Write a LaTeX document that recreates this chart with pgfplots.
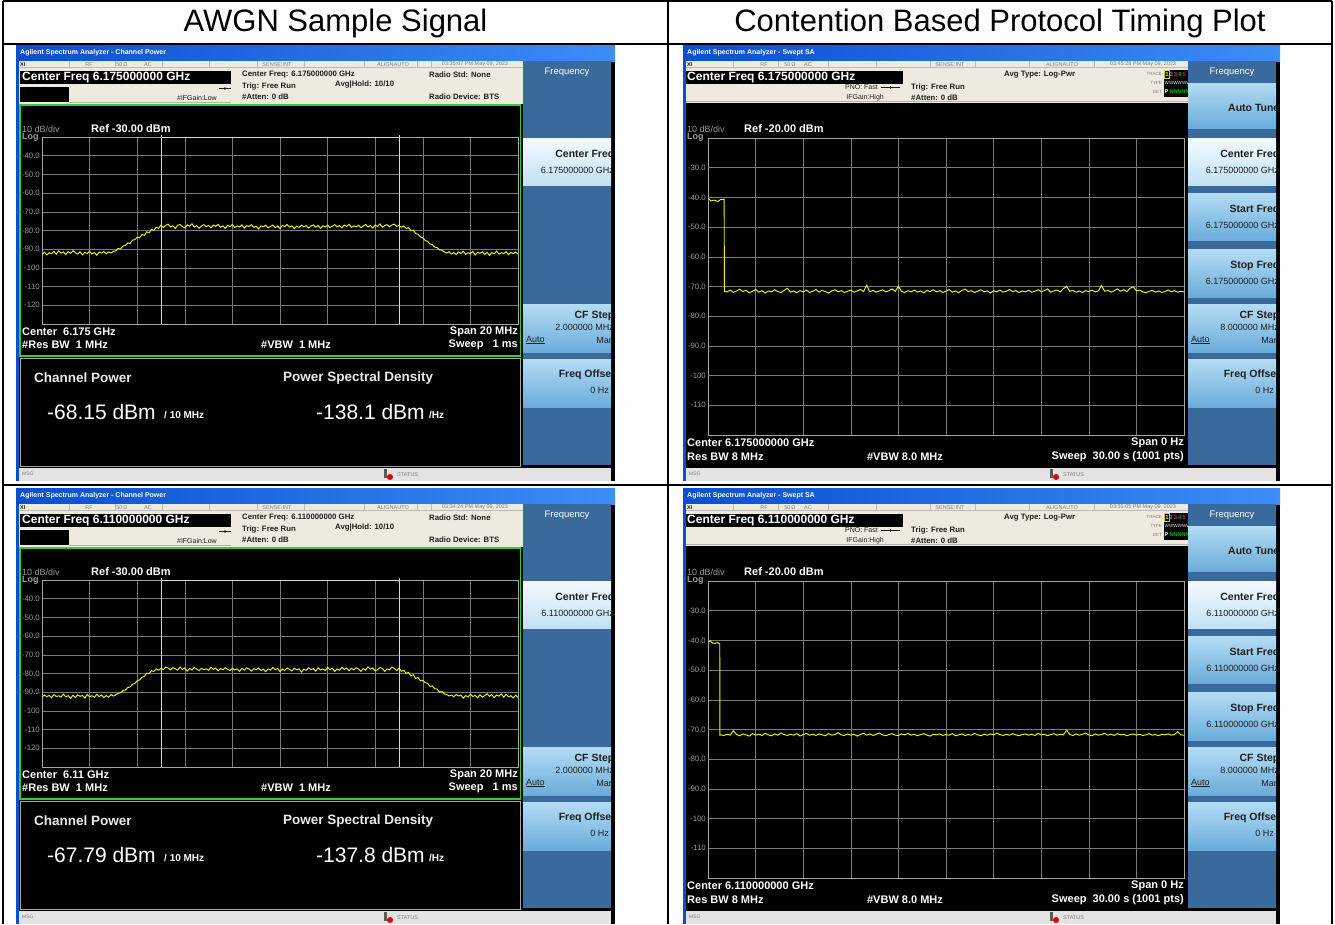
\documentclass[border=0pt]{standalone}
\usepackage{pgfplots}
\pgfplotsset{compat=1.18}
\usepackage{pgfplotstable}
\usepackage{fontspec}
\setmainfont{Liberation Sans}
\newcommand{\fs}[1]{\fontsize{#1}{#1}\selectfont}
\definecolor{tbL}{HTML}{0B4FD0}
\definecolor{tbR}{HTML}{3D8DF8}
\definecolor{infobg}{HTML}{EEEADF}
\definecolor{panel}{HTML}{3A6A9C}
\definecolor{btnT}{HTML}{B4DCF4}
\definecolor{btnB}{HTML}{6AACDA}
\definecolor{selT}{HTML}{F2FAFF}
\definecolor{selB}{HTML}{C2E1F5}
\definecolor{gridc}{HTML}{7A7A7A}
\definecolor{tracec}{HTML}{F4F400}
\definecolor{greenb}{HTML}{33CC33}
\definecolor{msgbg}{HTML}{E4E2E2}
\definecolor{txtd}{HTML}{1E1E1E}
\definecolor{markc}{HTML}{D8D8D8}

\tikzset{tx/.style={anchor=west,inner sep=0pt},te/.style={anchor=east,inner sep=0pt},tc/.style={anchor=center,inner sep=0pt}}

\pgfplotsset{
 sa/.style={scale only axis, anchor=south west, clip mode=individual,
   axis line style={draw=gray!70!white, line width=0.7pt},
   grid=major, major grid style={draw=gridc, line width=0.5pt},
   major tick length=0pt, xticklabels={},
   yticklabel style={font=\fs{7.8}, text=gray!80!white, inner sep=1pt, xshift=-1pt}},
 tr/.style={draw=tracec, line width=0.95pt, mark=none},
}

\pgfplotstableread[row sep=\\]{
x y\\
-10.0 -92.8\\ -9.9 -91.6\\ -9.8 -93.1\\ -9.7 -91.9\\ -9.6 -92.4\\ -9.5 -91.2\\ -9.4 -92.7\\ -9.3 -90.9\\ -9.2 -92.1\\ -9.1 -91.5\\
-9.0 -92.9\\ -8.9 -91.3\\ -8.8 -92.2\\ -8.7 -90.8\\ -8.6 -91.9\\ -8.5 -92.6\\ -8.4 -91.4\\ -8.3 -93.0\\ -8.2 -91.7\\ -8.1 -92.3\\
-8.0 -91.1\\ -7.9 -92.5\\ -7.8 -91.8\\ -7.7 -93.2\\ -7.6 -91.6\\ -7.5 -92.0\\ -7.4 -91.3\\ -7.3 -92.4\\ -7.2 -91.5\\ -7.1 -92.0\\
-7.0 -91.2\\ -6.9 -90.9\\ -6.8 -89.6\\ -6.7 -89.9\\ -6.6 -88.3\\ -6.5 -88.1\\ -6.4 -86.6\\ -6.3 -86.9\\ -6.2 -85.2\\ -6.1 -84.9\\
-6.0 -83.6\\ -5.9 -83.9\\ -5.8 -82.1\\ -5.7 -82.6\\ -5.6 -80.7\\ -5.5 -81.2\\ -5.4 -79.4\\ -5.3 -79.9\\ -5.2 -78.3\\ -5.1 -78.8\\
-5.0 -77.1\\ -4.9 -78.4\\ -4.8 -77.3\\ -4.7 -76.6\\ -4.6 -78.1\\ -4.5 -77.5\\ -4.4 -78.9\\ -4.3 -77.2\\ -4.2 -76.8\\ -4.1 -77.9\\
-4.0 -78.6\\ -3.9 -77.0\\ -3.8 -77.7\\ -3.7 -76.4\\ -3.6 -78.2\\ -3.5 -77.4\\ -3.4 -78.8\\ -3.3 -77.6\\ -3.2 -76.9\\ -3.1 -78.0\\
-3.0 -77.3\\ -2.9 -78.5\\ -2.8 -77.1\\ -2.7 -77.8\\ -2.6 -76.7\\ -2.5 -78.3\\ -2.4 -77.5\\ -2.3 -78.9\\ -2.2 -77.2\\ -2.1 -77.9\\
-2.0 -76.8\\ -1.9 -78.4\\ -1.8 -77.6\\ -1.7 -78.1\\ -1.6 -77.0\\ -1.5 -78.7\\ -1.4 -77.4\\ -1.3 -77.9\\ -1.2 -76.9\\ -1.1 -78.3\\
-1.0 -77.7\\ -0.9 -79.2\\ -0.8 -77.5\\ -0.7 -78.0\\ -0.6 -77.2\\ -0.5 -78.6\\ -0.4 -77.8\\ -0.3 -77.1\\ -0.2 -78.4\\ -0.1 -77.6\\
0.0 -78.9\\ 0.1 -77.3\\ 0.2 -77.9\\ 0.3 -76.8\\ 0.4 -78.2\\ 0.5 -77.5\\ 0.6 -79.0\\ 0.7 -77.7\\ 0.8 -78.3\\ 0.9 -77.1\\
1.0 -78.0\\ 1.1 -77.4\\ 1.2 -78.7\\ 1.3 -77.6\\ 1.4 -77.0\\ 1.5 -78.2\\ 1.6 -77.3\\ 1.7 -78.8\\ 1.8 -77.5\\ 1.9 -78.1\\
2.0 -77.2\\ 2.1 -78.4\\ 2.2 -77.7\\ 2.3 -76.9\\ 2.4 -78.0\\ 2.5 -77.4\\ 2.6 -78.6\\ 2.7 -77.1\\ 2.8 -77.8\\ 2.9 -76.7\\
3.0 -78.3\\ 3.1 -77.5\\ 3.2 -78.0\\ 3.3 -77.2\\ 3.4 -78.5\\ 3.5 -77.6\\ 3.6 -76.8\\ 3.7 -78.1\\ 3.8 -77.3\\ 3.9 -78.7\\
4.0 -77.0\\ 4.1 -77.9\\ 4.2 -76.5\\ 4.3 -78.2\\ 4.4 -77.4\\ 4.5 -76.9\\ 4.6 -78.0\\ 4.7 -77.1\\ 4.8 -76.6\\ 4.9 -77.8\\
5.0 -77.3\\ 5.1 -78.2\\ 5.2 -77.6\\ 5.3 -78.9\\ 5.4 -78.5\\ 5.5 -80.1\\ 5.6 -79.8\\ 5.7 -81.6\\ 5.8 -82.0\\ 5.9 -83.4\\
6.0 -83.9\\ 6.1 -85.3\\ 6.2 -85.8\\ 6.3 -87.2\\ 6.4 -87.5\\ 6.5 -88.9\\ 6.6 -89.1\\ 6.7 -90.3\\ 6.8 -90.6\\ 6.9 -91.4\\
7.0 -92.1\\ 7.1 -91.3\\ 7.2 -92.6\\ 7.3 -91.8\\ 7.4 -92.9\\ 7.5 -91.5\\ 7.6 -92.3\\ 7.7 -91.1\\ 7.8 -92.7\\ 7.9 -91.9\\
8.0 -92.4\\ 8.1 -91.2\\ 8.2 -93.1\\ 8.3 -91.7\\ 8.4 -92.2\\ 8.5 -91.4\\ 8.6 -92.8\\ 8.7 -91.6\\ 8.8 -93.3\\ 8.9 -91.8\\
9.0 -92.5\\ 9.1 -91.0\\ 9.2 -92.6\\ 9.3 -91.9\\ 9.4 -92.3\\ 9.5 -91.3\\ 9.6 -92.9\\ 9.7 -91.7\\ 9.8 -92.4\\ 9.9 -91.5\\
10.0 -92.6\\
}\specA

\pgfplotstableread[row sep=\\]{
x y\\
-10.0 -92.6\\ -9.9 -91.5\\ -9.8 -92.4\\ -9.7 -91.7\\ -9.6 -92.9\\ -9.5 -91.3\\ -9.4 -92.3\\ -9.3 -91.9\\ -9.2 -92.6\\ -9.1 -91.0\\
-9.0 -92.5\\ -8.9 -91.8\\ -8.8 -93.3\\ -8.7 -91.6\\ -8.6 -92.8\\ -8.5 -91.4\\ -8.4 -92.2\\ -8.3 -91.7\\ -8.2 -93.1\\ -8.1 -91.2\\
-8.0 -92.4\\ -7.9 -91.9\\ -7.8 -92.7\\ -7.7 -91.1\\ -7.6 -92.3\\ -7.5 -91.5\\ -7.4 -92.9\\ -7.3 -91.8\\ -7.2 -92.6\\ -7.1 -91.3\\
-7.0 -92.1\\ -6.9 -91.4\\ -6.8 -90.6\\ -6.7 -90.3\\ -6.6 -89.1\\ -6.5 -88.9\\ -6.4 -87.5\\ -6.3 -87.2\\ -6.2 -85.8\\ -6.1 -85.3\\
-6.0 -83.9\\ -5.9 -83.4\\ -5.8 -82.0\\ -5.7 -81.6\\ -5.6 -79.8\\ -5.5 -80.1\\ -5.4 -78.5\\ -5.3 -78.9\\ -5.2 -77.6\\ -5.1 -78.2\\
-5.0 -77.3\\ -4.9 -77.8\\ -4.8 -76.6\\ -4.7 -77.1\\ -4.6 -78.0\\ -4.5 -76.9\\ -4.4 -77.4\\ -4.3 -78.2\\ -4.2 -76.5\\ -4.1 -77.9\\
-4.0 -77.0\\ -3.9 -78.7\\ -3.8 -77.3\\ -3.7 -78.1\\ -3.6 -76.8\\ -3.5 -77.6\\ -3.4 -78.5\\ -3.3 -77.2\\ -3.2 -78.0\\ -3.1 -77.5\\
-3.0 -78.3\\ -2.9 -76.7\\ -2.8 -77.8\\ -2.7 -77.1\\ -2.6 -78.6\\ -2.5 -77.4\\ -2.4 -78.0\\ -2.3 -76.9\\ -2.2 -77.7\\ -2.1 -78.4\\
-2.0 -77.2\\ -1.9 -78.1\\ -1.8 -77.5\\ -1.7 -78.8\\ -1.6 -77.3\\ -1.5 -78.2\\ -1.4 -77.0\\ -1.3 -77.6\\ -1.2 -78.7\\ -1.1 -77.4\\
-1.0 -78.0\\ -0.9 -77.1\\ -0.8 -78.3\\ -0.7 -77.7\\ -0.6 -79.0\\ -0.5 -77.5\\ -0.4 -78.2\\ -0.3 -76.8\\ -0.2 -77.9\\ -0.1 -77.3\\
0.0 -78.9\\ 0.1 -77.6\\ 0.2 -78.4\\ 0.3 -77.1\\ 0.4 -77.8\\ 0.5 -78.6\\ 0.6 -77.2\\ 0.7 -78.0\\ 0.8 -77.5\\ 0.9 -79.2\\
1.0 -77.7\\ 1.1 -78.3\\ 1.2 -76.9\\ 1.3 -77.9\\ 1.4 -77.4\\ 1.5 -78.7\\ 1.6 -77.0\\ 1.7 -78.1\\ 1.8 -77.6\\ 1.9 -78.4\\
2.0 -76.8\\ 2.1 -77.9\\ 2.2 -77.2\\ 2.3 -78.9\\ 2.4 -77.5\\ 2.5 -78.3\\ 2.6 -76.7\\ 2.7 -77.8\\ 2.8 -77.1\\ 2.9 -78.5\\
3.0 -77.3\\ 3.1 -78.0\\ 3.2 -76.9\\ 3.3 -77.6\\ 3.4 -78.8\\ 3.5 -77.4\\ 3.6 -78.2\\ 3.7 -76.4\\ 3.8 -77.7\\ 3.9 -77.0\\
4.0 -78.6\\ 4.1 -77.9\\ 4.2 -76.8\\ 4.3 -77.2\\ 4.4 -78.9\\ 4.5 -77.5\\ 4.6 -78.1\\ 4.7 -76.6\\ 4.8 -77.3\\ 4.9 -78.4\\
5.0 -77.1\\ 5.1 -78.8\\ 5.2 -78.3\\ 5.3 -79.9\\ 5.4 -79.4\\ 5.5 -81.2\\ 5.6 -80.7\\ 5.7 -82.6\\ 5.8 -82.1\\ 5.9 -83.9\\
6.0 -83.6\\ 6.1 -84.9\\ 6.2 -85.2\\ 6.3 -86.9\\ 6.4 -86.6\\ 6.5 -88.1\\ 6.6 -88.3\\ 6.7 -89.9\\ 6.8 -89.6\\ 6.9 -90.9\\
7.0 -91.2\\ 7.1 -92.0\\ 7.2 -91.5\\ 7.3 -92.4\\ 7.4 -91.3\\ 7.5 -92.0\\ 7.6 -91.6\\ 7.7 -93.2\\ 7.8 -91.8\\ 7.9 -92.5\\
8.0 -91.1\\ 8.1 -92.3\\ 8.2 -91.7\\ 8.3 -93.0\\ 8.4 -91.4\\ 8.5 -92.6\\ 8.6 -91.9\\ 8.7 -90.8\\ 8.8 -92.2\\ 8.9 -91.3\\
9.0 -92.9\\ 9.1 -91.5\\ 9.2 -92.1\\ 9.3 -90.9\\ 9.4 -92.7\\ 9.5 -91.2\\ 9.6 -92.4\\ 9.7 -91.9\\ 9.8 -93.1\\ 9.9 -91.6\\
10.0 -92.8\\
}\specB

\pgfplotstableread[row sep=\\]{
x y\\
0.0 -40.3\\ 0.2 -41.2\\ 0.4 -40.9\\ 0.6 -41.4\\ 0.8 -40.7\\ 1.02 -40.6\\ 1.03 -71.6\\
1.2 -71.8\\ 1.4 -71.2\\ 1.6 -72.0\\ 1.8 -71.5\\ 2.0 -70.9\\ 2.2 -71.7\\ 2.4 -71.3\\ 2.6 -72.1\\ 2.8 -71.6\\ 3.0 -71.0\\
3.2 -71.9\\ 3.4 -71.4\\ 3.6 -72.2\\ 3.8 -71.5\\ 4.0 -71.8\\ 4.2 -71.1\\ 4.4 -71.7\\ 4.6 -72.0\\ 4.8 -71.3\\ 5.0 -70.6\\
5.2 -71.9\\ 5.4 -71.5\\ 5.6 -72.1\\ 5.8 -71.4\\ 6.0 -71.8\\ 6.2 -71.2\\ 6.4 -72.0\\ 6.6 -71.6\\ 6.8 -71.0\\ 7.0 -71.9\\
7.2 -71.3\\ 7.4 -71.7\\ 7.6 -72.2\\ 7.8 -71.5\\ 8.0 -71.1\\ 8.2 -71.8\\ 8.4 -71.4\\ 8.6 -72.0\\ 8.8 -71.6\\ 9.0 -71.2\\
9.2 -71.9\\ 9.4 -71.5\\ 9.6 -71.0\\ 9.8 -71.7\\ 10.0 -69.6\\ 10.2 -71.8\\ 10.4 -71.3\\ 10.6 -71.9\\ 10.8 -71.5\\ 11.0 -71.1\\
11.2 -71.8\\ 11.4 -71.4\\ 11.6 -70.8\\ 11.8 -71.6\\ 12.0 -69.9\\ 12.2 -71.7\\ 12.4 -72.0\\ 12.6 -71.4\\ 12.8 -71.8\\ 13.0 -71.2\\
13.2 -71.9\\ 13.4 -71.5\\ 13.6 -72.1\\ 13.8 -71.3\\ 14.0 -71.7\\ 14.2 -71.1\\ 14.4 -71.8\\ 14.6 -71.4\\ 14.8 -72.0\\ 15.0 -71.6\\
15.2 -71.0\\ 15.4 -71.9\\ 15.6 -71.5\\ 15.8 -72.1\\ 16.0 -71.3\\ 16.2 -70.9\\ 16.4 -71.7\\ 16.6 -71.4\\ 16.8 -72.0\\ 17.0 -71.6\\
17.2 -71.1\\ 17.4 -71.8\\ 17.6 -71.5\\ 17.8 -72.2\\ 18.0 -71.4\\ 18.2 -71.8\\ 18.4 -71.2\\ 18.6 -71.9\\ 18.8 -71.6\\ 19.0 -71.0\\
19.2 -71.7\\ 19.4 -71.4\\ 19.6 -72.0\\ 19.8 -71.5\\ 20.0 -71.8\\ 20.2 -71.3\\ 20.4 -71.9\\ 20.6 -71.6\\ 20.8 -71.1\\ 21.0 -71.7\\
21.2 -71.4\\ 21.4 -70.8\\ 21.6 -71.9\\ 21.8 -71.5\\ 22.0 -71.2\\ 22.2 -71.8\\ 22.4 -70.7\\ 22.6 -70.0\\ 22.8 -71.6\\ 23.0 -71.3\\
23.2 -71.9\\ 23.4 -71.5\\ 23.6 -72.0\\ 23.8 -71.4\\ 24.0 -71.7\\ 24.2 -71.2\\ 24.4 -71.8\\ 24.6 -71.5\\ 24.8 -69.7\\ 25.0 -71.6\\
25.2 -71.3\\ 25.4 -71.9\\ 25.6 -71.4\\ 25.8 -70.8\\ 26.0 -71.6\\ 26.2 -71.1\\ 26.4 -71.7\\ 26.6 -70.6\\ 26.8 -70.1\\ 27.0 -71.5\\
27.2 -71.2\\ 27.4 -71.8\\ 27.6 -72.1\\ 27.8 -71.6\\ 28.0 -71.3\\ 28.2 -71.9\\ 28.4 -71.5\\ 28.6 -72.0\\ 28.8 -71.7\\ 29.0 -71.2\\
29.2 -71.8\\ 29.4 -71.4\\ 29.6 -71.9\\ 29.8 -71.6\\ 30.0 -71.8\\
}\timeA

\pgfplotstableread[row sep=\\]{
x y\\
0.0 -40.4\\ 0.15 -40.2\\ 0.3 -40.9\\ 0.45 -41.0\\ 0.6 -40.7\\ 0.74 -41.1\\ 0.75 -71.9\\
0.8 -71.8\\ 1.0 -72.0\\ 1.2 -71.6\\ 1.4 -71.9\\ 1.6 -70.4\\ 1.8 -71.7\\ 2.0 -72.1\\ 2.2 -71.5\\ 2.4 -71.8\\ 2.6 -72.2\\
2.8 -71.4\\ 3.0 -71.9\\ 3.2 -71.6\\ 3.4 -72.0\\ 3.6 -71.3\\ 3.8 -71.8\\ 4.0 -72.1\\ 4.2 -71.5\\ 4.4 -71.9\\ 4.6 -71.2\\
4.8 -71.7\\ 5.0 -72.0\\ 5.2 -71.6\\ 5.4 -71.9\\ 5.6 -71.4\\ 5.8 -72.2\\ 6.0 -71.7\\ 6.2 -71.3\\ 6.4 -71.9\\ 6.6 -71.6\\
6.8 -72.0\\ 7.0 -71.5\\ 7.2 -71.8\\ 7.4 -72.1\\ 7.6 -71.4\\ 7.8 -71.9\\ 8.0 -71.7\\ 8.2 -71.1\\ 8.4 -71.8\\ 8.6 -72.0\\
8.8 -71.5\\ 9.0 -71.9\\ 9.2 -71.6\\ 9.4 -72.2\\ 9.6 -71.7\\ 9.8 -71.3\\ 10.0 -71.9\\ 10.2 -71.5\\ 10.4 -72.0\\ 10.6 -71.6\\
10.8 -71.2\\ 11.0 -71.8\\ 11.2 -72.1\\ 11.4 -71.7\\ 11.6 -71.4\\ 11.8 -71.9\\ 12.0 -72.0\\ 12.2 -71.5\\ 12.4 -71.8\\ 12.6 -71.3\\
12.8 -71.9\\ 13.0 -71.6\\ 13.2 -72.1\\ 13.4 -71.7\\ 13.6 -71.4\\ 13.8 -71.9\\ 14.0 -72.2\\ 14.2 -71.6\\ 14.4 -71.8\\ 14.6 -71.5\\
14.8 -72.0\\ 15.0 -71.7\\ 15.2 -71.9\\ 15.4 -71.4\\ 15.6 -72.1\\ 15.8 -71.8\\ 16.0 -71.5\\ 16.2 -72.0\\ 16.4 -71.7\\ 16.6 -71.9\\
16.8 -71.3\\ 17.0 -71.8\\ 17.2 -72.1\\ 17.4 -71.6\\ 17.6 -71.9\\ 17.8 -71.5\\ 18.0 -71.8\\ 18.2 -71.2\\ 18.4 -71.7\\ 18.6 -72.0\\
18.8 -71.6\\ 19.0 -71.9\\ 19.2 -71.4\\ 19.4 -71.8\\ 19.6 -72.1\\ 19.8 -71.7\\ 20.0 -71.5\\ 20.2 -71.9\\ 20.4 -71.6\\ 20.6 -72.0\\
20.8 -71.3\\ 21.0 -71.8\\ 21.2 -71.6\\ 21.4 -72.1\\ 21.6 -71.7\\ 21.8 -71.4\\ 22.0 -71.9\\ 22.2 -71.6\\ 22.4 -71.8\\ 22.6 -70.2\\
22.8 -71.7\\ 23.0 -72.0\\ 23.2 -71.5\\ 23.4 -71.9\\ 23.6 -71.6\\ 23.8 -71.2\\ 24.0 -71.8\\ 24.2 -72.1\\ 24.4 -71.5\\ 24.6 -71.9\\
24.8 -71.7\\ 25.0 -71.3\\ 25.2 -71.9\\ 25.4 -71.6\\ 25.6 -72.0\\ 25.8 -71.4\\ 26.0 -71.8\\ 26.2 -71.6\\ 26.4 -72.1\\ 26.6 -71.7\\
26.8 -71.5\\ 27.0 -71.9\\ 27.2 -71.6\\ 27.4 -72.0\\ 27.6 -71.8\\ 27.8 -71.4\\ 28.0 -71.9\\ 28.2 -71.7\\ 28.4 -72.1\\ 28.6 -71.6\\
28.8 -71.8\\ 29.0 -71.5\\ 29.2 -71.9\\ 29.4 -71.7\\ 29.6 -70.7\\ 29.8 -71.8\\ 30.0 -71.9\\
}\timeB

% strip text helper
\newcommand{\stt}[2]{\node[tc, font=\fs{5.5}, text=gray] at (#1,64.3) {#2};}
\newcommand{\btn}[5]{\shade[top color=#5T, bottom color=#5B] (#1,#3) rectangle (#2,#4);}

\newcommand{\leftshot}[5]{%
\fill[black] (16,45) rectangle (615,481);
\fill[tbL] (16,45) rectangle (18.5,481);
\shade[left color=tbL, right color=tbR] (16,45) rectangle (615,61);
\node[tx, text=white, font=\fs{7}\bfseries] at (20,53) {Agilent Spectrum Analyzer - Channel Power};
\fill[infobg] (18.5,61) rectangle (523,104);
\draw[gray!55, line width=0.4pt] (18.5,67.5) -- (523,67.5);
\foreach \xx in {69,115,162,209,257,304,364,417,431}{\draw[gray!55, line width=0.4pt] (\xx,61) -- (\xx,67.5);}
\node[tx, font=\fs{5.5}\bfseries, text=txtd] at (20,64.3) {XI};
\stt{89}{RF}\stt{122}{50\,Ω}\stt{148}{AC}\stt{277}{SENSE:INT}\stt{393}{ALIGNAUTO}\stt{475}{#2}
\fill[black] (20,70.5) rectangle (231,83.5);
\node[tx, text=white, font=\fs{12}\bfseries] at (22,77.3) {Center Freq #1 GHz};
\fill[black] (20,86.5) rectangle (69,102);
\draw[gray!60, line width=0.4pt] (69,102.5) -- (231,102.5);
\node[tx, font=\fs{7.8}\bfseries, text=txtd] at (242,75) {Center Freq: #1 GHz};
\node[tx, font=\fs{7.8}\bfseries, text=txtd] at (242,86) {Trig: Free Run};
\node[tx, font=\fs{7.8}\bfseries, text=txtd] at (335,85) {Avg|Hold: 10/10};
\node[tx, font=\fs{7.8}\bfseries, text=txtd] at (242,97) {\#Atten: 0 dB};
\node[te, font=\fs{7}, text=txtd] at (217,97.5) {\#IFGain:Low};
\draw[txtd, line width=0.5pt] (219,88.5) -- (231,88.5); \fill[txtd] (225,88.5) circle (1.3);
\node[tx, font=\fs{7.8}\bfseries, text=txtd] at (429,75) {Radio Std: None};
\node[tx, font=\fs{7.8}\bfseries, text=txtd] at (429,97) {Radio Device: BTS};
% right panel
\fill[panel] (523,61) rectangle (611,465);
\btn{523}{611}{138}{185}{sel}
\btn{523}{611}{304}{352}{btn}
\btn{523}{611}{359}{407}{btn}
\begin{scope}
\clip (523,61) rectangle (611,465);
\node[tc, font=\fs{9.5}, text=white] at (567,72) {Frequency};
\node[te, font=\fs{10.5}\bfseries, text=txtd] at (614.5,155) {Center Freq};
\node[te, font=\fs{9}, text=txtd] at (614,170) {#1 GHz};
\node[te, font=\fs{10.5}\bfseries, text=txtd] at (614.5,316) {CF Step};
\node[te, font=\fs{9}, text=txtd] at (614,327.5) {2.000000 MHz};
\node[tx, font=\fs{9}, text=txtd] at (526,340) {\underline{Auto}};
\node[te, font=\fs{9}, text=txtd] at (614,340) {Man};
\node[te, font=\fs{10.5}\bfseries, text=txtd] at (615,375) {Freq Offset};
\node[te, font=\fs{9}, text=txtd] at (609,390) {0 Hz};
\end{scope}
% plot frame
\draw[greenb, line width=1.6pt] (20,105) rectangle (520.5,356);
\node[tx, font=\fs{9}, text=gray!80!white] at (22,129.5) {10 dB/div};
\node[tx, font=\fs{9}\bfseries, text=gray!80!white] at (22,137.5) {Log};
\node[tx, font=\fs{11}\bfseries, text=white] at (91,129) {Ref -30.00 dBm};
\node[tx, font=\fs{11}\bfseries, text=white] at (22,332) {Center\ \ #3 GHz};
\node[tx, font=\fs{11}\bfseries, text=white] at (22,345) {\#Res BW\ \ 1 MHz};
\node[tc, font=\fs{11}\bfseries, text=white] at (296,345) {\#VBW\ \ 1 MHz};
\node[te, font=\fs{11}\bfseries, text=white] at (518,332) {Span 20 MHz};
\node[te, font=\fs{11}\bfseries, text=white] at (518,345) {Sweep\ \ \ 1 ms};
% results area
\draw[gray!70, line width=0.6pt] (20,358) rectangle (520,466);
\node[tx, font=\fs{13.5}\bfseries, text=white!92!black] at (34,378) {Channel Power};
\node[tx, font=\fs{13.5}\bfseries, text=white!92!black] at (283,378) {Power Spectral Density};
\node[tx, font=\fs{21}, text=white] at (47,412) {#4 dBm};
\node[tx, font=\fs{10}\bfseries, text=white] at (164,414.5) {/ 10 MHz};
\node[tx, font=\fs{21}, text=white] at (316,412) {#5 dBm};
\node[tx, font=\fs{10}\bfseries, text=white] at (429,414.5) {/Hz};
% msg bar
\fill[msgbg] (18.5,467.5) rectangle (611,481);
\node[tx, font=\fs{5}, text=gray] at (22,474) {MSG};
\fill[gray!70!black] (384,469) rectangle (387,478);
\fill[red!85!black] (390,477) circle (3);
\node[tx, font=\fs{5.5}, text=gray] at (397,474.5) {STATUS};
}

\newcommand{\rightshot}[2]{%
\fill[black] (683,45) rectangle (1280,481);
\fill[tbL] (683,45) rectangle (685.5,481);
\shade[left color=tbL, right color=tbR] (683,45) rectangle (1280,61);
\node[tx, text=white, font=\fs{7}\bfseries] at (687,53) {Agilent Spectrum Analyzer - Swept SA};
\fill[infobg] (685.5,61) rectangle (1188,103);
\draw[gray!55, line width=0.4pt] (685.5,67.5) -- (1188,67.5);
\foreach \xx in {733,778,828,876,930,975,1029,1094}{\draw[gray!55, line width=0.4pt] (\xx,61) -- (\xx,67.5);}
\node[tx, font=\fs{5.5}\bfseries, text=txtd] at (687,64.3) {XI};
\stt{764}{RF}\stt{790}{50\,Ω}\stt{808}{AC}\stt{950}{SENSE:INT}\stt{1062}{ALIGNAUTO}\stt{1143}{#2}
\fill[black] (685.5,70.5) rectangle (903,83.5);
\node[tx, text=white, font=\fs{12}\bfseries] at (687,77.3) {Center Freq #1 GHz};
\draw[gray!60, line width=0.4pt] (685.5,101.5) -- (1188,101.5);
\node[te, font=\fs{7}, text=txtd] at (878,87.5) {PNO: Fast};
\draw[txtd, line width=0.5pt] (881,87.5) -- (900,87.5); \fill[txtd] (890.5,87.5) circle (1.3);
\node[te, font=\fs{7}, text=txtd] at (884,97.5) {IFGain:High};
\node[tx, font=\fs{7.8}\bfseries, text=txtd] at (911,87) {Trig: Free Run};
\node[tx, font=\fs{7.8}\bfseries, text=txtd] at (911,97.5) {\#Atten: 0 dB};
\node[tx, font=\fs{7.8}\bfseries, text=txtd] at (1004,75) {Avg Type: Log-Pwr};
\node[te, font=\fs{4.5}, text=gray] at (1162,74) {TRACE};
\node[te, font=\fs{4.5}, text=gray] at (1162,83) {TYPE};
\node[te, font=\fs{4.5}, text=gray] at (1162,92) {DET};
\fill[black] (1164,70) rectangle (1188,97);
\draw[yellow!80!black, line width=0.4pt] (1164.5,70.5) rectangle (1169.5,78);
\node[tc, font=\fs{6}\bfseries, text=yellow] at (1167,74.3) {1};
\node[tc, font=\fs{6}\bfseries, text=cyan!80!black] at (1171.3,74.3) {2};
\node[tc, font=\fs{6}\bfseries, text=magenta] at (1175.6,74.3) {3};
\node[tc, font=\fs{6}\bfseries, text=green!70!black] at (1179.9,74.3) {4};
\node[tc, font=\fs{6}\bfseries, text=red!70!magenta] at (1184.2,74.3) {5};
\node[tx, font=\fs{4.6}, text=white!80!gray] at (1164.5,83) {WWWWWW};
\node[tx, font=\fs{5.5}\bfseries, text=white] at (1164.5,92) {P};
\node[tx, font=\fs{5.5}\bfseries, text=green!75!black] at (1169.5,92) {NNNNN};
% right panel
\fill[panel] (1188,61) rectangle (1276,465);
\btn{1188}{1276}{83}{128}{btn}
\btn{1188}{1276}{138}{185}{sel}
\btn{1188}{1276}{193}{240}{btn}
\btn{1188}{1276}{249}{297}{btn}
\btn{1188}{1276}{304}{352}{btn}
\btn{1188}{1276}{359}{407}{btn}
\begin{scope}
\clip (1188,61) rectangle (1276,465);
\node[tc, font=\fs{9.5}, text=white] at (1232,72) {Frequency};
\node[te, font=\fs{10.5}\bfseries, text=txtd] at (1279.5,108) {Auto Tune};
\node[te, font=\fs{10.5}\bfseries, text=txtd] at (1279.5,155) {Center Freq};
\node[te, font=\fs{9}, text=txtd] at (1279,170) {#1 GHz};
\node[te, font=\fs{10.5}\bfseries, text=txtd] at (1279.5,210) {Start Freq};
\node[te, font=\fs{9}, text=txtd] at (1279,225) {#1 GHz};
\node[te, font=\fs{10.5}\bfseries, text=txtd] at (1279.5,266) {Stop Freq};
\node[te, font=\fs{9}, text=txtd] at (1279,281) {#1 GHz};
\node[te, font=\fs{10.5}\bfseries, text=txtd] at (1279.5,316) {CF Step};
\node[te, font=\fs{9}, text=txtd] at (1279,327.5) {8.000000 MHz};
\node[tx, font=\fs{9}, text=txtd] at (1191,340) {\underline{Auto}};
\node[te, font=\fs{9}, text=txtd] at (1279,340) {Man};
\node[te, font=\fs{10.5}\bfseries, text=txtd] at (1280,375) {Freq Offset};
\node[te, font=\fs{9}, text=txtd] at (1274,390) {0 Hz};
\end{scope}
% plot texts
\node[tx, font=\fs{9}, text=gray!80!white] at (687,129.5) {10 dB/div};
\node[tx, font=\fs{9}\bfseries, text=gray!80!white] at (687,137.5) {Log};
\node[tx, font=\fs{11}\bfseries, text=white] at (744,129) {Ref -20.00 dBm};
\node[tx, font=\fs{11}\bfseries, text=white] at (687,443) {Center #1 GHz};
\node[tx, font=\fs{11}\bfseries, text=white] at (687,457) {Res BW 8 MHz};
\node[tc, font=\fs{11}\bfseries, text=white] at (905,457) {\#VBW 8.0 MHz};
\node[te, font=\fs{11}\bfseries, text=white] at (1184,443) {Span 0 Hz};
\node[te, font=\fs{11}\bfseries, text=white] at (1184,457) {Sweep\ \ 30.00 s (1001 pts)};
% msg bar
\fill[msgbg] (685.5,467.5) rectangle (1276,481);
\node[tx, font=\fs{5}, text=gray] at (689,474) {MSG};
\fill[gray!70!black] (1050,469) rectangle (1053,478);
\fill[red!85!black] (1056,477) circle (3);
\node[tx, font=\fs{5.5}, text=gray] at (1063,474.5) {STATUS};
}

\begin{document}
\begin{tikzpicture}
\useasboundingbox (0pt,0pt) rectangle (1335pt,-924pt);
\fill[white] (0pt,0pt) rectangle (1335pt,-924pt);
\begin{scope}[x=1pt,y=-1pt]
\leftshot{6.175000000}{03:35:07 PM May 09, 2023}{6.175}{-68.15}{-138.1}
\rightshot{6.175000000}{03:45:28 PM May 09, 2023}
\begin{scope}[yshift=-443pt]
\leftshot{6.110000000}{03:34:24 PM May 09, 2023}{6.11}{-67.79}{-137.8}
\rightshot{6.110000000}{03:55:05 PM May 09, 2023}
\end{scope}
% table rules
\draw[black, line width=1.3pt] (3,1) -- (1332,1);
\draw[black, line width=1.3pt] (3,44) -- (1332,44);
\draw[black, line width=1.3pt] (3,485) -- (1332,485);
\draw[black, line width=1.3pt] (3,1) -- (3,924);
\draw[black, line width=1.3pt] (668,1) -- (668,924);
\draw[black, line width=1.3pt] (1332,1) -- (1332,924);
\node[tc, font=\fs{31}] at (335.5,23) {AWGN Sample Signal};
\node[tc, font=\fs{31}] at (1000,23) {Contention Based Protocol Timing Plot};
\end{scope}

% top-left spectrum
\begin{axis}[sa, at={(42pt,-324pt)}, width=476pt, height=187pt,
 xmin=-10,xmax=10, ymin=-130,ymax=-30,
 xtick={-10,-8,...,10}, ytick={-130,-120,...,-30},
 yticklabels={,-120,-110,-100,-90.0,-80.0,-70.0,-60.0,-50.0,-40.0,}]
\draw[markc, line width=0.9pt] (axis cs:-5,-130) -- (axis cs:-5,-28.8);
\draw[markc, line width=0.9pt] (axis cs:5,-130) -- (axis cs:5,-28.8);
\draw[markc, line width=0.9pt] (axis cs:-5,-30) -- (axis cs:5,-30);
\addplot[tr] table[x=x,y=y] {\specA};
\end{axis}

% bottom-left spectrum
\begin{axis}[sa, at={(42pt,-767pt)}, width=476pt, height=187pt,
 xmin=-10,xmax=10, ymin=-130,ymax=-30,
 xtick={-10,-8,...,10}, ytick={-130,-120,...,-30},
 yticklabels={,-120,-110,-100,-90.0,-80.0,-70.0,-60.0,-50.0,-40.0,}]
\draw[markc, line width=0.9pt] (axis cs:-5,-130) -- (axis cs:-5,-28.8);
\draw[markc, line width=0.9pt] (axis cs:5,-130) -- (axis cs:5,-28.8);
\draw[markc, line width=0.9pt] (axis cs:-5,-30) -- (axis cs:5,-30);
\addplot[tr] table[x=x,y=y] {\specB};
\end{axis}

% top-right timing
\begin{axis}[sa, at={(708pt,-435pt)}, width=476pt, height=297pt,
 xmin=0,xmax=30, ymin=-120,ymax=-20,
 xtick={0,3,...,30}, ytick={-120,-110,...,-20},
 yticklabels={,-110,-100,-90.0,-80.0,-70.0,-60.0,-50.0,-40.0,-30.0,}]
\addplot[tr] table[x=x,y=y] {\timeA};
\end{axis}

% bottom-right timing
\begin{axis}[sa, at={(708pt,-878pt)}, width=476pt, height=297pt,
 xmin=0,xmax=30, ymin=-120,ymax=-20,
 xtick={0,3,...,30}, ytick={-120,-110,...,-20},
 yticklabels={,-110,-100,-90.0,-80.0,-70.0,-60.0,-50.0,-40.0,-30.0,}]
\addplot[tr] table[x=x,y=y] {\timeB};
\end{axis}
\end{tikzpicture}
\end{document}
